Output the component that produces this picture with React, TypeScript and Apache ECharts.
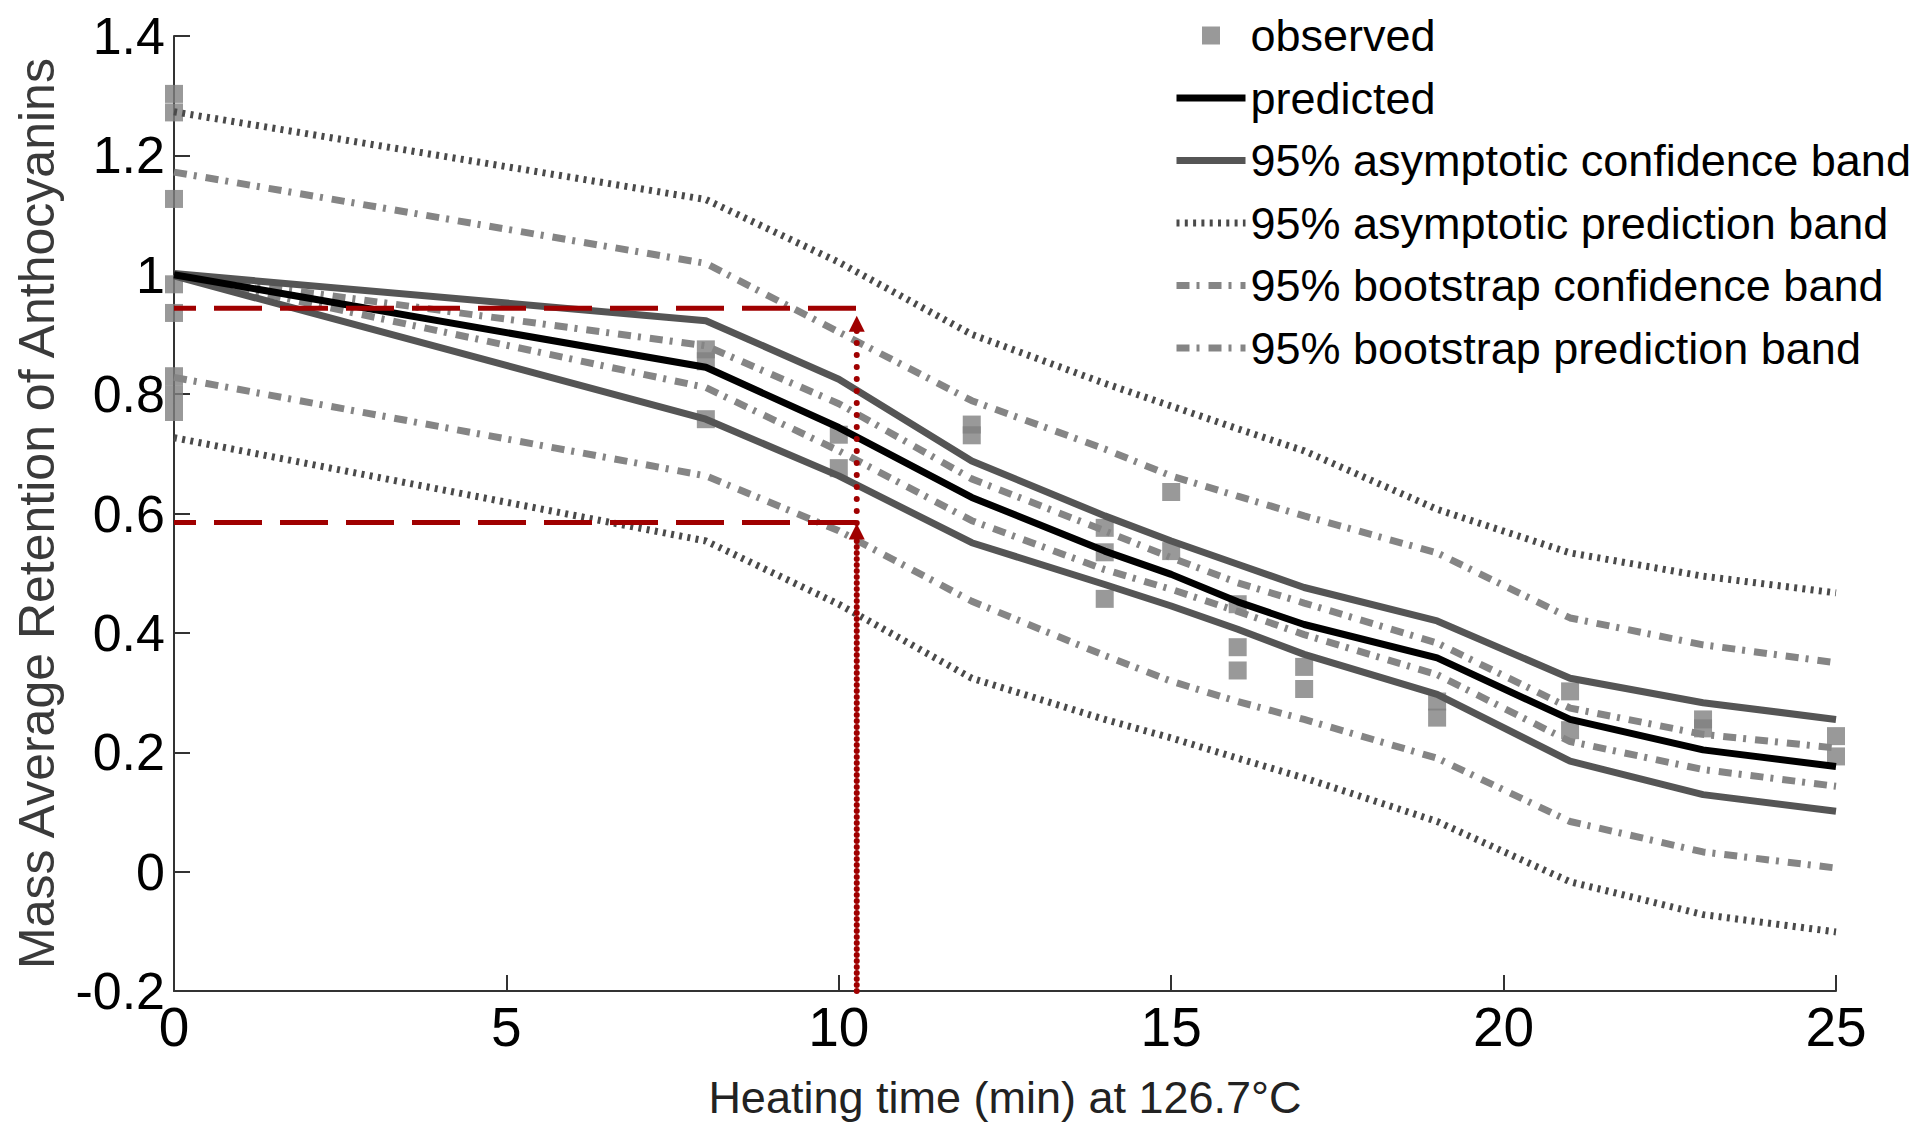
import React, { useEffect, useRef } from "react";
import * as echarts from "echarts";

// Heating time knots (min)
const T = [0, 8, 10, 12, 14, 15, 16, 17, 19, 21, 23, 25];

const predicted = [1.0, 0.845, 0.744, 0.627, 0.537, 0.498, 0.452, 0.414, 0.358, 0.255, 0.204, 0.176];
const asymConfUpper = [1.002, 0.923, 0.825, 0.688, 0.596, 0.554, 0.515, 0.476, 0.42, 0.324, 0.283, 0.255];
const asymConfLower = [0.998, 0.758, 0.663, 0.551, 0.481, 0.445, 0.406, 0.364, 0.297, 0.185, 0.129, 0.101];
const asymPredUpper = [1.273, 1.126, 1.021, 0.9, 0.818, 0.78, 0.742, 0.705, 0.607, 0.534, 0.495, 0.467];
const asymPredLower = [0.727, 0.554, 0.448, 0.324, 0.255, 0.224, 0.19, 0.157, 0.084, -0.017, -0.072, -0.101];
const bootConfUpper = [1.0, 0.881, 0.784, 0.658, 0.571, 0.526, 0.484, 0.45, 0.383, 0.274, 0.23, 0.207];
const bootConfLower = [1.0, 0.811, 0.705, 0.588, 0.506, 0.473, 0.436, 0.397, 0.33, 0.218, 0.171, 0.143];
const bootPredUpper = [1.172, 1.019, 0.904, 0.789, 0.708, 0.663, 0.629, 0.596, 0.534, 0.425, 0.38, 0.35];
const bootPredLower = [0.828, 0.663, 0.571, 0.453, 0.362, 0.319, 0.285, 0.255, 0.19, 0.084, 0.033, 0.006];

// Observed points
const obsT = [0, 0, 0, 0, 0, 0, 0, 0, 8, 8, 8, 10, 10, 12, 12, 14, 14, 14, 15, 15, 16, 16, 16, 17, 17, 19, 19, 21, 21, 23, 23, 25, 25];
const obsV = [1.303, 1.272, 1.127, 0.984, 0.936, 0.83, 0.8, 0.77, 0.875, 0.855, 0.758, 0.732, 0.676, 0.749, 0.731, 0.576, 0.535, 0.457, 0.636, 0.537, 0.448, 0.376, 0.337, 0.343, 0.306, 0.285, 0.258, 0.302, 0.237, 0.255, 0.24, 0.227, 0.193];

// Red guide lines
const guideT = 10.27;
const guideLevels = [0.944, 0.585];
const arrowLevels = [0.918, 0.57];

const xTicks = [0, 5, 10, 15, 20, 25];
const yMin = -0.2;
const yMax = 1.4;

const NAMES = {
  obs: "observed",
  pred: "predicted",
  ac: "95% asymptotic confidence band",
  ap: "95% asymptotic prediction band",
  bc: "95% bootstrap confidence band",
  bp: "95% bootstrap prediction band",
};

const FONT = "'Liberation Sans', Arial, Helvetica, sans-serif";

export default function App() {
  const ref = useRef<HTMLDivElement>(null);
  useEffect(() => {
    const chart = echarts.init(ref.current as HTMLDivElement, null, { renderer: "svg" });
    const pair = (xs: number[], ys: number[]) => xs.map((x, i) => [x, ys[i]]);
    const band = (name: string, ys: number[], color: string, width: number, type: any, z: number) => ({
      type: "line",
      name,
      data: pair(T, ys),
      symbol: "none",
      z,
      silent: true,
      lineStyle: { color, width, type, cap: "butt" },
      itemStyle: { color },
    });
    const red = "#a00000";
    const dotted = [3, 5.3];
    const dashDot = [13, 7, 3, 9];
    const hiddenDot = { opacity: 0, borderWidth: 0 };

    const option: any = {
      animation: false,
      backgroundColor: "#ffffff",
      textStyle: { fontFamily: FONT },
      grid: { left: 174, right: 87, top: 36, bottom: 134, containLabel: false },
      legend: {
        orient: "vertical",
        left: 1168,
        top: 8,
        itemWidth: 69,
        itemHeight: 18,
        itemGap: 17.5,
        selectedMode: false,
        textStyle: { fontSize: 45, color: "#000", fontFamily: FONT },
        data: [
          { name: NAMES.obs, icon: "path://M0,0h10v10h-10z" },
          { name: NAMES.pred, itemStyle: hiddenDot, lineStyle: { width: 7 } },
          { name: NAMES.ac, itemStyle: hiddenDot, lineStyle: { width: 7 } },
          { name: NAMES.ap, itemStyle: hiddenDot, lineStyle: { width: 7 } },
          { name: NAMES.bc, itemStyle: hiddenDot, lineStyle: { width: 7 } },
          { name: NAMES.bp, itemStyle: hiddenDot, lineStyle: { width: 7 } },
        ],
      },
      xAxis: {
        type: "value",
        min: xTicks[0],
        max: xTicks[xTicks.length - 1],
        interval: 5,
        name: "Heating time (min) at 126.7°C",
        nameLocation: "middle",
        nameGap: 84,
        nameTextStyle: { fontSize: 45, color: "#222", fontFamily: FONT },
        axisLine: { show: true, onZero: false, lineStyle: { color: "#333", width: 2 } },
        axisTick: { show: true, inside: true, length: 16, lineStyle: { color: "#333", width: 2 } },
        axisLabel: { fontSize: 55, color: "#000", margin: 8, fontFamily: FONT },
        splitLine: { show: false },
      },
      yAxis: {
        type: "value",
        min: yMin,
        max: yMax,
        interval: 0.2,
        name: "Mass Average Retention of Anthocyanins",
        nameLocation: "middle",
        nameGap: 112,
        nameRotate: 90,
        nameTextStyle: { fontSize: 50, color: "#3a3a3a", fontFamily: FONT },
        axisLine: { show: true, onZero: false, lineStyle: { color: "#333", width: 2 } },
        axisTick: { show: true, inside: true, length: 16, lineStyle: { color: "#333", width: 2 } },
        axisLabel: {
          fontSize: 52,
          color: "#000",
          margin: 9,
          fontFamily: FONT,
          formatter: (v: number) => String(parseFloat(v.toFixed(1))),
        },
        splitLine: { show: false },
      },
      series: [
        {
          type: "scatter",
          name: NAMES.obs,
          data: pair(obsT, obsV),
          symbol: "rect",
          symbolSize: 18,
          z: 1,
          silent: true,
          itemStyle: { color: "#808080" },
        },
        band(NAMES.ap, asymPredUpper, "#4a4a4a", 7, dotted, 2),
        band(NAMES.ap, asymPredLower, "#4a4a4a", 7, dotted, 2),
        band(NAMES.bp, bootPredUpper, "#858585", 7, dashDot, 3),
        band(NAMES.bp, bootPredLower, "#858585", 7, dashDot, 3),
        band(NAMES.bc, bootConfUpper, "#858585", 7, dashDot, 3),
        band(NAMES.bc, bootConfLower, "#858585", 7, dashDot, 3),
        band(NAMES.ac, asymConfUpper, "#555555", 7, "solid", 4),
        band(NAMES.ac, asymConfLower, "#555555", 7, "solid", 4),
        band(NAMES.pred, predicted, "#000000", 7, "solid", 5),
        ...guideLevels.map((lv) => ({
          type: "line",
          name: "guide-h-" + lv,
          data: [
            [0, lv],
            [guideT, lv],
          ],
          symbol: "none",
          z: 6,
          silent: true,
          lineStyle: { color: red, width: 5, type: [48, 18], dashOffset: 26, cap: "butt" },
        })),
        ...arrowLevels.map((lv, i) => ({
          type: "line",
          name: "guide-v-" + i,
          data: [
            { value: [guideT, yMin], symbol: "none" },
            { value: [guideT, lv], symbol: "triangle", symbolSize: [16, 16] },
          ],
          symbol: "triangle",
          showSymbol: true,
          z: 6,
          silent: true,
          itemStyle: { color: red },
          lineStyle: { color: red, width: 6, type: [0.1, 11.9], dashOffset: i * 6, cap: "round" },
        })),
      ],
    };
    chart.setOption(option);
    return () => chart.dispose();
  }, []);
  return (
    <div
      ref={ref}
      style={{ position: "absolute", left: 0, top: 0, width: 1923, height: 1125 }}
    />
  );
}
